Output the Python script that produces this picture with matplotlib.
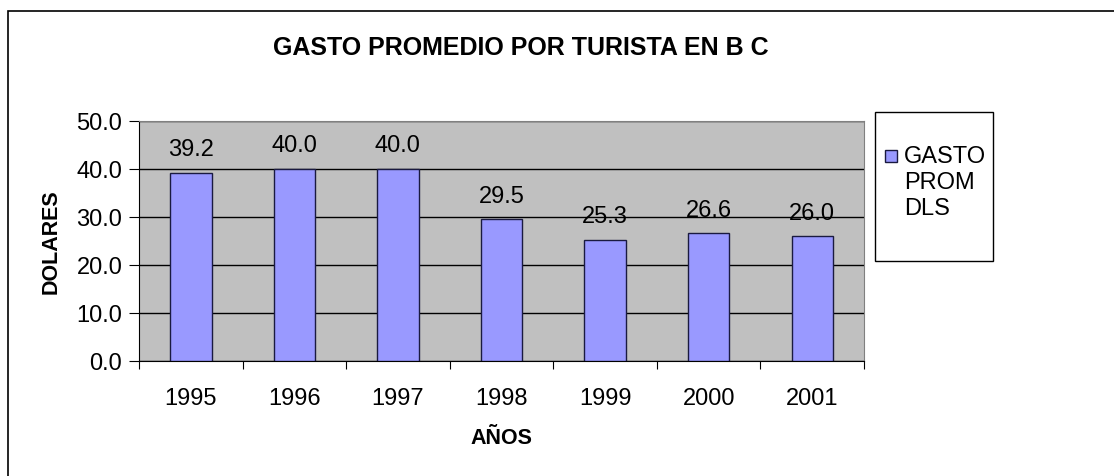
import matplotlib.pyplot as plt
from matplotlib.patches import Rectangle

years = ['1995', '1996', '1997', '1998', '1999', '2000', '2001']
gasto = [39.2, 40.0, 40.0, 29.5, 25.3, 26.6, 26.0]
y_ticks = [0, 10, 20, 30, 40, 50]
legend_label = ['GASTO', 'PROM', 'DLS']

plt.rcParams['font.family'] = ['Liberation Sans', 'DejaVu Sans']

W, H = 1114, 477
fig = plt.figure(figsize=(W / 100, H / 100), dpi=100, facecolor='white')

# outer chart frame (cut at right and bottom like the source)
fig.patches.append(Rectangle((8 / W, -0.1), 1.2, 1.1 - 12 / H, transform=fig.transFigure,
                             fill=False, edgecolor='black', linewidth=1.2))

ax = fig.add_axes([139 / W, 1 - 362 / H, (864 - 139) / W, (362 - 122) / H])
ax.set_facecolor('#c0c0c0')
x = range(len(years))
ax.bar(x, gasto, width=0.4, color='#9999ff', edgecolor='#1a1a40', linewidth=1, zorder=3)
for i, v in enumerate(gasto):
    ax.annotate('%.1f' % v, (i, v), xytext=(0, 9), textcoords='offset points',
                ha='center', va='bottom', fontsize=17)

ax.set_xlim(-0.5, len(years) - 0.5)
ax.set_ylim(0, 50)
ax.set_yticks(y_ticks)
ax.set_yticklabels(['%.1f' % t for t in y_ticks], fontsize=17)
ax.yaxis.grid(True, color='black', linewidth=1, zorder=1)
ax.set_axisbelow(True)
ax.set_xticks([i + 0.5 for i in range(-1, len(years))])
ax.set_xticklabels([])
ax.set_xticks(list(x), minor=True)
ax.set_xticklabels(years, minor=True, fontsize=17)
ax.tick_params(axis='x', which='major', length=6, direction='out', color='black')
ax.tick_params(axis='x', which='minor', length=0, pad=19)
ax.tick_params(axis='y', length=7, direction='out', pad=5)
for s in ['top', 'right']:
    ax.spines[s].set_color('#808080')
for s in ['left', 'bottom']:
    ax.spines[s].set_color('black')

ax.set_ylabel('DOLARES', fontsize=15.5, fontweight='bold', labelpad=11)
ax.set_xlabel('AÑOS', fontsize=15.5, fontweight='bold', labelpad=13)

fig.text(521 / W, 1 - 48 / H, 'GASTO PROMEDIO POR TURISTA EN B C', ha='center', va='center',
         fontsize=18, fontweight='bold')

# legend box
fig.patches.append(Rectangle((875 / W, 1 - 262 / H), 118 / W, 149 / H, transform=fig.transFigure,
                             fill=False, edgecolor='black', linewidth=1))
fig.patches.append(Rectangle((885 / W, 1 - 163 / H), 12 / W, 12 / H, transform=fig.transFigure,
                             facecolor='#9999ff', edgecolor='#1a1a40', linewidth=1))
for k, line in enumerate(legend_label):
    fig.text(904 / W, 1 - (157 + 26 * k) / H, line, ha='left', va='center', fontsize=17)

fig.savefig('out.png', dpi=100)
